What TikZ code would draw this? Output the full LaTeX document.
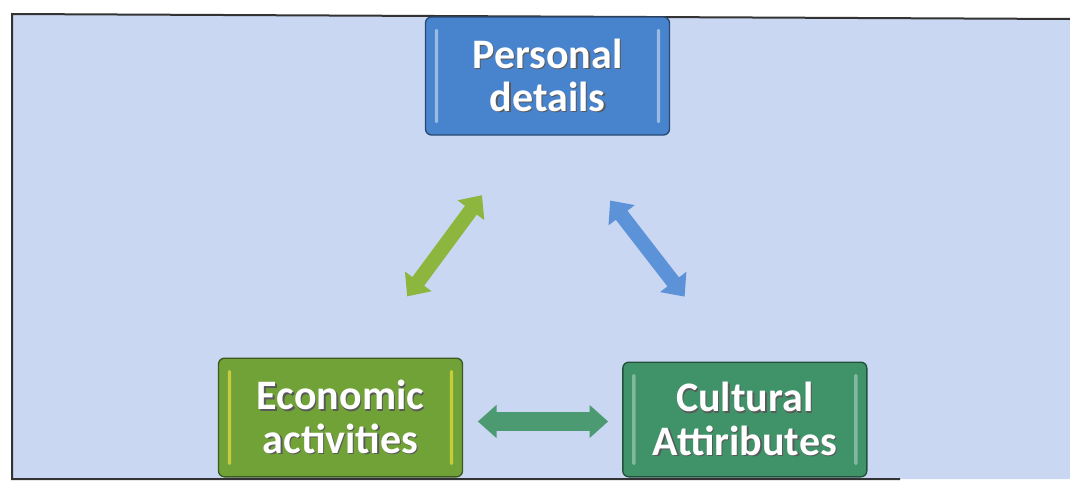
\documentclass[tikz,border=0pt]{standalone}
\usepackage{fontspec}
\setmainfont{Carlito}
\usepackage{tikz}
\usetikzlibrary{arrows.meta,positioning,calc}

\definecolor{bgblue}{RGB}{201,215,242}
\definecolor{persblue}{RGB}{72,131,205}
\definecolor{econgreen}{RGB}{112,162,56}
\definecolor{cultgreen}{RGB}{64,146,104}
\definecolor{arrgreen}{RGB}{140,182,62}
\definecolor{arrblue}{RGB}{92,146,216}
\definecolor{arrteal}{RGB}{76,154,114}

\newcommand\shtext[1]{\leavevmode\rlap{\kern1pt\raisebox{-1pt}{\textcolor{black!65}{#1}}}#1}

\begin{document}
\begin{tikzpicture}[
  x=0.75pt, y=-0.75pt,
  box/.style={draw=#1!55!black, line width=1pt, fill=#1, rounded corners=4.5pt,
              align=center, text=white, inner sep=0pt,
              font=\bfseries\fontsize{31.5}{32.5}\selectfont,
              minimum width=183pt},
  bars/.style={path picture={
      \fill[#1, rounded corners=1pt]
        ([xshift=7pt,yshift=-9pt]path picture bounding box.north west)
        rectangle ([xshift=9.5pt,yshift=9pt]path picture bounding box.south west);
      \fill[#1, rounded corners=1pt]
        ([xshift=-7pt,yshift=-9pt]path picture bounding box.north east)
        rectangle ([xshift=-9.5pt,yshift=9pt]path picture bounding box.south east);}},
  dbl/.style={{Triangle[width=24pt,length=14pt]}-{Triangle[width=24pt,length=14pt]},
              line width=11pt, #1},
]
\useasboundingbox (0,0) rectangle (1070,482);

% ---- scanned page frame ----------------------------------------------------
\fill[bgblue] (12,14) -- (1070,19) -- (1070,479) -- (12,479) -- cycle;
\draw[black!80, line width=1.5pt] (1070,19) -- (12,14) -- (12,479) -- (900,479);

% ---- the three topics ------------------------------------------------------
\node[box=persblue, bars=white!45!persblue, minimum height=88.5pt]
     (pers) at (547.5,76) {\shtext{Personal}\\\shtext{details}};
\node[box=econgreen, bars=yellow!55!econgreen, minimum height=89pt]
     (econ) at (340.5,417.5) {\shtext{Economic}\\\shtext{activities}};
\node[box=cultgreen, bars=white!35!cultgreen, minimum height=86pt,
      right=119.25pt of econ, yshift=-1.5pt]
     (cult) {\shtext{Cultural}\\\shtext{Attiributes}};

% ---- two-way links ---------------------------------------------------------
\draw[dbl=arrgreen, shorten <=57pt, shorten >=55.5pt]
  ($(econ.north)+(21.5,0)$) -- ($(pers.south)+(-21.5,0)$);
\draw[dbl=arrblue, shorten <=61.5pt, shorten >=61.5pt]
  ($(pers.south)+(12.5,0)$) -- ($(cult.north)+(-10,0)$);
\draw[dbl=arrteal, line width=14pt, shorten <=11pt, shorten >=10.5pt]
  ($(econ.east)+(0,4)$) -- ($(cult.west |- econ.east)+(0,4)$);
\end{tikzpicture}
\end{document}
